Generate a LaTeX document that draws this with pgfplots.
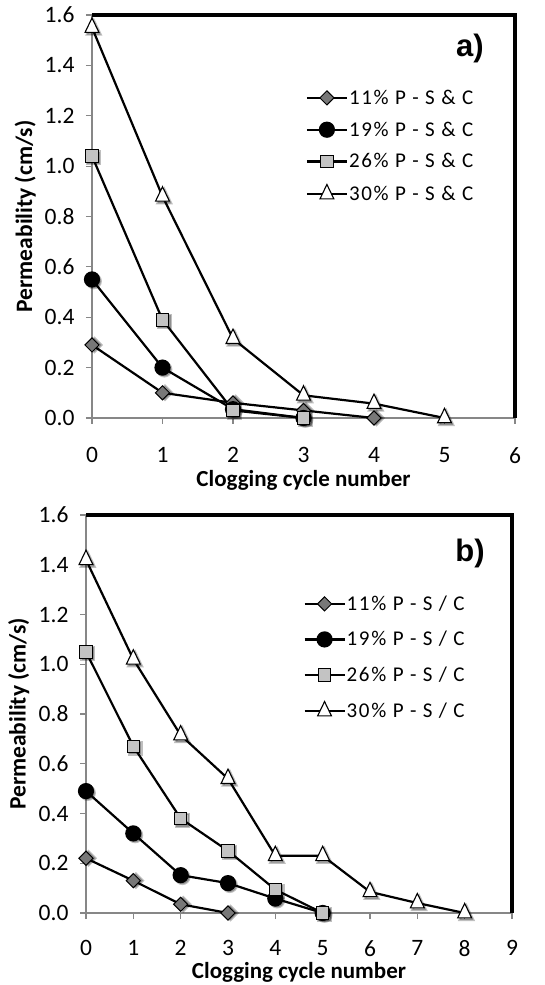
\documentclass[border=0pt]{standalone}
\usepackage{fontspec}
\setmainfont{Carlito}
\newfontfamily\legfont[LetterSpace=8]{Carlito}
\newfontfamily\panelfont{Liberation Sans}
\usepackage{pgfplots}
\pgfplotsset{compat=1.18}

\definecolor{axgray}{RGB}{135,135,135}
\definecolor{dgray}{RGB}{120,120,120}
\definecolor{lgray}{RGB}{195,195,195}

\pgfplotsset{
 mystyle/.style={
  scale only axis,
  axis lines=left,
  axis line style={-, axgray, line width=2pt},
  clip=false,
  ymin=0, ymax=1.6,
  ytick={0,0.2,0.4,0.6,0.8,1.0,1.2,1.4,1.6},
  tick align=outside,
  major tick length=6pt,
  tick style={axgray, line width=1.2pt},
  /pgf/number format/assume math mode=true,
  yticklabel style={/pgf/number format/fixed, /pgf/number format/fixed zerofill, /pgf/number format/precision=1, anchor=east, xshift=-8pt},
  ticklabel style={font=\fontsize{23.5}{25}\selectfont},
  xticklabel style={anchor=north, inner sep=1pt, yshift=-22pt},
  every axis y label/.style={at={(axis description cs:-0.158,0.5)}, rotate=90, anchor=center, font=\bfseries\fontsize{23.5}{25}\selectfont},
  every axis x label/.style={at={(axis description cs:0.5,0)}, anchor=center, inner sep=1pt, yshift=-62pt, font=\bfseries\fontsize{23}{25}\selectfont},
  ylabel={Permeability (cm/s)},
  xlabel={Clogging cycle number},
  every axis plot/.append style={black, line width=2.2pt},
  legend style={draw=none, fill=none, font=\legfont\fontsize{21}{23}\selectfont, inner sep=0pt, row sep=13pt, nodes={inner sep=1pt}},
  legend cell align=left,
  legend image code/.code={\draw[mark repeat=2,mark phase=2,#1] plot coordinates {(0pt,0pt) (20pt,0pt) (40pt,0pt)};},
  after end axis/.code={\draw[black, line width=3.2pt] (rel axis cs:0,1) -- (rel axis cs:1,1) -- (rel axis cs:1,0);},
 },
 sA/.style={mark=square*, mark size=5pt, mark options={rotate=45, fill=dgray, draw=black, line width=1pt, solid}},
 sB/.style={mark=*, mark size=7pt, mark options={fill=black, draw=black, solid}},
 sC/.style={mark=square*, mark size=6.3pt, mark options={fill=lgray, draw=black, line width=1pt, solid}},
 sD/.style={mark=triangle*, mark size=8pt, mark options={yscale=1.2, fill=white, draw=black, line width=1.1pt, solid}},
 shA/.style={forget plot, only marks, mark=square*, mark size=5pt, mark options={rotate=45, fill=black, draw=none, opacity=0.25, xshift=1.8pt, yshift=-1.8pt}},
 shB/.style={forget plot, only marks, mark=*, mark size=7pt, mark options={fill=black, draw=none, opacity=0.25, xshift=1.8pt, yshift=-1.8pt}},
 shC/.style={forget plot, only marks, mark=square*, mark size=6.3pt, mark options={fill=black, draw=none, opacity=0.25, xshift=1.8pt, yshift=-1.8pt}},
 shD/.style={forget plot, only marks, mark=triangle*, mark size=8pt, mark options={yscale=1.2, fill=black, draw=none, opacity=0.25, xshift=1.8pt, yshift=-1.8pt}},
}

\pgfplotstableread{
x y
0 0.29
1 0.10
2 0.06
3 0.03
4 0.0
}\aA
\pgfplotstableread{
x y
0 0.55
1 0.20
2 0.035
3 0.0
}\aB
\pgfplotstableread{
x y
0 1.04
1 0.39
2 0.03
3 0.0
}\aC
\pgfplotstableread{
x y
0 1.55
1 0.88
2 0.315
3 0.09
4 0.057
5 0.0
}\aD
\pgfplotstableread{
x y
0 0.22
1 0.13
2 0.035
3 0.0
}\bA
\pgfplotstableread{
x y
0 0.49
1 0.32
2 0.152
3 0.12
4 0.058
5 0.0
}\bB
\pgfplotstableread{
x y
0 1.05
1 0.67
2 0.38
3 0.25
4 0.094
5 0.0
}\bC
\pgfplotstableread{
x y
0 1.42
1 1.02
2 0.715
3 0.54
4 0.23
5 0.23
6 0.085
7 0.04
8 0.0
}\bD

\begin{document}
\begin{tikzpicture}
\useasboundingbox (0,0) rectangle (544pt,985pt);
% Panel a
\begin{axis}[mystyle, at={(92pt,567pt)}, anchor=south west, width=423pt, height=403pt,
  xmin=0, xmax=6, xtick={0,1,2,3,4,5,6},
  legend style={at={(axis description cs:0.505,0.817)}, anchor=north west, row sep=14pt}]
\addplot[shA] table {\aA};
\addplot[sA] table {\aA};
\addlegendentry{11\% P - S \& C}
\addplot[shB] table {\aB};
\addplot[sB] table {\aB};
\addlegendentry{19\% P - S \& C}
\addplot[shC] table {\aC};
\addplot[sC] table {\aC};
\addlegendentry{26\% P - S \& C}
\addplot[shD] table {\aD};
\addplot[sD] table {\aD};
\addlegendentry{30\% P - S \& C}
\end{axis}
\node[font=\panelfont\bfseries\fontsize{31}{33}\selectfont] at (470pt,937pt) {a)};
% Panel b
\begin{axis}[mystyle, at={(86pt,72pt)}, anchor=south west, width=426pt, height=398pt,
  xmin=0, xmax=9, xtick={0,1,2,3,4,5,6,7,8,9},
  xticklabel style={yshift=2pt},
  every axis x label/.append style={yshift=3pt},
  legend style={at={(axis description cs:0.51,0.80)}, anchor=north west, row sep=17.5pt}]
\addplot[shA] table {\bA};
\addplot[sA] table {\bA};
\addlegendentry{11\% P - S / C}
\addplot[shB] table {\bB};
\addplot[sB] table {\bB};
\addlegendentry{19\% P - S / C}
\addplot[shC] table {\bC};
\addplot[sC] table {\bC};
\addlegendentry{26\% P - S / C}
\addplot[shD] table {\bD};
\addplot[sD] table {\bD};
\addlegendentry{30\% P - S / C}
\end{axis}
\node[font=\panelfont\bfseries\fontsize{31}{33}\selectfont] at (470pt,432pt) {b)};
\end{tikzpicture}
\end{document}
